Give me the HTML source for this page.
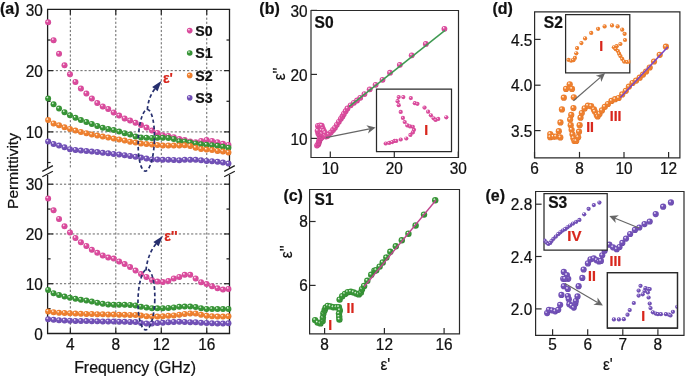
<!DOCTYPE html>
<html><head><meta charset="utf-8"><style>
html,body{margin:0;padding:0;background:#fff;}
svg{display:block;font-family:"Liberation Sans", sans-serif;will-change:transform;}
</style></head><body>
<svg width="685" height="377" viewBox="0 0 685 377">
<defs><radialGradient id="gP" cx="0.45" cy="0.45" r="0.6" fx="0.34" fy="0.3"><stop offset="0" stop-color="#ffffff"/><stop offset="0.13" stop-color="#f5c0de"/><stop offset="0.36" stop-color="#da4a9c"/><stop offset="0.8" stop-color="#da4a9c"/><stop offset="1" stop-color="#bb3683"/></radialGradient><radialGradient id="gG" cx="0.45" cy="0.45" r="0.6" fx="0.34" fy="0.3"><stop offset="0" stop-color="#ffffff"/><stop offset="0.13" stop-color="#b8e0b8"/><stop offset="0.36" stop-color="#379436"/><stop offset="0.8" stop-color="#379436"/><stop offset="1" stop-color="#27782a"/></radialGradient><radialGradient id="gO" cx="0.45" cy="0.45" r="0.6" fx="0.34" fy="0.3"><stop offset="0" stop-color="#ffffff"/><stop offset="0.13" stop-color="#fcd8b8"/><stop offset="0.36" stop-color="#ee7f2e"/><stop offset="0.8" stop-color="#ee7f2e"/><stop offset="1" stop-color="#d0661c"/></radialGradient><radialGradient id="gV" cx="0.45" cy="0.45" r="0.6" fx="0.34" fy="0.3"><stop offset="0" stop-color="#ffffff"/><stop offset="0.13" stop-color="#d2c4ee"/><stop offset="0.36" stop-color="#7150b6"/><stop offset="0.8" stop-color="#7150b6"/><stop offset="1" stop-color="#57389a"/></radialGradient><clipPath id="c0"><rect x="375.90" y="88.40" width="76.20" height="63.90"/></clipPath><clipPath id="c1"><rect x="565.00" y="14.00" width="65.40" height="59.50"/></clipPath><clipPath id="c2"><rect x="543.40" y="192.90" width="64.40" height="57.70"/></clipPath><clipPath id="c3"><rect x="607.40" y="272.60" width="70.10" height="55.60"/></clipPath></defs>
<rect width="685" height="377" fill="#fff"/>
<line x1="70.34" y1="9.4" x2="70.34" y2="167.8" stroke="#666" stroke-width="1.0" stroke-dasharray="2.2 1.9"/>
<line x1="70.34" y1="175.0" x2="70.34" y2="333.5" stroke="#666" stroke-width="1.0" stroke-dasharray="2.2 1.9"/>
<line x1="115.81" y1="9.4" x2="115.81" y2="167.8" stroke="#666" stroke-width="1.0" stroke-dasharray="2.2 1.9"/>
<line x1="115.81" y1="175.0" x2="115.81" y2="333.5" stroke="#666" stroke-width="1.0" stroke-dasharray="2.2 1.9"/>
<line x1="161.29" y1="9.4" x2="161.29" y2="167.8" stroke="#666" stroke-width="1.0" stroke-dasharray="2.2 1.9"/>
<line x1="161.29" y1="175.0" x2="161.29" y2="333.5" stroke="#666" stroke-width="1.0" stroke-dasharray="2.2 1.9"/>
<line x1="206.76" y1="9.4" x2="206.76" y2="167.8" stroke="#666" stroke-width="1.0" stroke-dasharray="2.2 1.9"/>
<line x1="206.76" y1="175.0" x2="206.76" y2="333.5" stroke="#666" stroke-width="1.0" stroke-dasharray="2.2 1.9"/>
<line x1="47.6" y1="131.90" x2="229.5" y2="131.90" stroke="#666" stroke-width="1.0" stroke-dasharray="2.2 1.9"/>
<line x1="47.6" y1="70.65" x2="229.5" y2="70.65" stroke="#666" stroke-width="1.0" stroke-dasharray="2.2 1.9"/>
<line x1="47.6" y1="283.73" x2="229.5" y2="283.73" stroke="#666" stroke-width="1.0" stroke-dasharray="2.2 1.9"/>
<line x1="47.6" y1="233.96" x2="229.5" y2="233.96" stroke="#666" stroke-width="1.0" stroke-dasharray="2.2 1.9"/>
<line x1="47.6" y1="184.19" x2="229.5" y2="184.19" stroke="#666" stroke-width="1.0" stroke-dasharray="2.2 1.9"/>
<line x1="46.95" y1="9.40" x2="230.15" y2="9.40" stroke="#1e1e1e" stroke-width="1.3" />
<line x1="47.60" y1="9.40" x2="47.60" y2="167.80" stroke="#1e1e1e" stroke-width="1.3" />
<line x1="229.50" y1="9.40" x2="229.50" y2="167.80" stroke="#1e1e1e" stroke-width="1.3" />
<line x1="47.60" y1="175.00" x2="47.60" y2="333.50" stroke="#1e1e1e" stroke-width="1.3" />
<line x1="229.50" y1="175.00" x2="229.50" y2="333.50" stroke="#1e1e1e" stroke-width="1.3" />
<line x1="46.95" y1="333.50" x2="230.15" y2="333.50" stroke="#1e1e1e" stroke-width="1.3" />
<line x1="42.30" y1="171.40" x2="52.90" y2="165.60" stroke="#1e1e1e" stroke-width="1.2" />
<line x1="42.30" y1="176.80" x2="52.90" y2="171.20" stroke="#1e1e1e" stroke-width="1.2" />
<line x1="224.20" y1="171.40" x2="234.80" y2="165.60" stroke="#1e1e1e" stroke-width="1.2" />
<line x1="224.20" y1="176.80" x2="234.80" y2="171.20" stroke="#1e1e1e" stroke-width="1.2" />
<line x1="47.60" y1="40.02" x2="50.60" y2="40.02" stroke="#1e1e1e" stroke-width="1.2" />
<line x1="229.50" y1="40.02" x2="226.50" y2="40.02" stroke="#1e1e1e" stroke-width="1.2" />
<line x1="47.60" y1="70.65" x2="52.90" y2="70.65" stroke="#1e1e1e" stroke-width="1.2" />
<line x1="229.50" y1="70.65" x2="224.20" y2="70.65" stroke="#1e1e1e" stroke-width="1.2" />
<line x1="47.60" y1="101.28" x2="50.60" y2="101.28" stroke="#1e1e1e" stroke-width="1.2" />
<line x1="229.50" y1="101.28" x2="226.50" y2="101.28" stroke="#1e1e1e" stroke-width="1.2" />
<line x1="47.60" y1="131.90" x2="52.90" y2="131.90" stroke="#1e1e1e" stroke-width="1.2" />
<line x1="229.50" y1="131.90" x2="224.20" y2="131.90" stroke="#1e1e1e" stroke-width="1.2" />
<line x1="47.60" y1="162.53" x2="50.60" y2="162.53" stroke="#1e1e1e" stroke-width="1.2" />
<line x1="229.50" y1="162.53" x2="226.50" y2="162.53" stroke="#1e1e1e" stroke-width="1.2" />
<line x1="47.60" y1="184.19" x2="52.90" y2="184.19" stroke="#1e1e1e" stroke-width="1.2" />
<line x1="229.50" y1="184.19" x2="224.20" y2="184.19" stroke="#1e1e1e" stroke-width="1.2" />
<line x1="47.60" y1="209.07" x2="50.60" y2="209.07" stroke="#1e1e1e" stroke-width="1.2" />
<line x1="229.50" y1="209.07" x2="226.50" y2="209.07" stroke="#1e1e1e" stroke-width="1.2" />
<line x1="47.60" y1="233.96" x2="52.90" y2="233.96" stroke="#1e1e1e" stroke-width="1.2" />
<line x1="229.50" y1="233.96" x2="224.20" y2="233.96" stroke="#1e1e1e" stroke-width="1.2" />
<line x1="47.60" y1="258.85" x2="50.60" y2="258.85" stroke="#1e1e1e" stroke-width="1.2" />
<line x1="229.50" y1="258.85" x2="226.50" y2="258.85" stroke="#1e1e1e" stroke-width="1.2" />
<line x1="47.60" y1="283.73" x2="52.90" y2="283.73" stroke="#1e1e1e" stroke-width="1.2" />
<line x1="229.50" y1="283.73" x2="224.20" y2="283.73" stroke="#1e1e1e" stroke-width="1.2" />
<line x1="47.60" y1="308.62" x2="50.60" y2="308.62" stroke="#1e1e1e" stroke-width="1.2" />
<line x1="229.50" y1="308.62" x2="226.50" y2="308.62" stroke="#1e1e1e" stroke-width="1.2" />
<line x1="70.34" y1="333.50" x2="70.34" y2="328.20" stroke="#1e1e1e" stroke-width="1.2" />
<line x1="70.34" y1="9.40" x2="70.34" y2="14.70" stroke="#1e1e1e" stroke-width="1.2" />
<line x1="115.81" y1="333.50" x2="115.81" y2="328.20" stroke="#1e1e1e" stroke-width="1.2" />
<line x1="115.81" y1="9.40" x2="115.81" y2="14.70" stroke="#1e1e1e" stroke-width="1.2" />
<line x1="161.29" y1="333.50" x2="161.29" y2="328.20" stroke="#1e1e1e" stroke-width="1.2" />
<line x1="161.29" y1="9.40" x2="161.29" y2="14.70" stroke="#1e1e1e" stroke-width="1.2" />
<line x1="206.76" y1="333.50" x2="206.76" y2="328.20" stroke="#1e1e1e" stroke-width="1.2" />
<line x1="206.76" y1="9.40" x2="206.76" y2="14.70" stroke="#1e1e1e" stroke-width="1.2" />
<circle cx="48.10" cy="22.30" r="3.0" fill="url(#gP)"/>
<circle cx="53.56" cy="40.20" r="3.0" fill="url(#gP)"/>
<circle cx="59.03" cy="53.80" r="3.0" fill="url(#gP)"/>
<circle cx="64.49" cy="65.30" r="3.0" fill="url(#gP)"/>
<circle cx="69.96" cy="74.30" r="3.0" fill="url(#gP)"/>
<circle cx="75.42" cy="82.00" r="3.0" fill="url(#gP)"/>
<circle cx="80.88" cy="88.40" r="3.0" fill="url(#gP)"/>
<circle cx="86.35" cy="93.50" r="3.0" fill="url(#gP)"/>
<circle cx="91.81" cy="98.40" r="3.0" fill="url(#gP)"/>
<circle cx="97.28" cy="103.00" r="3.0" fill="url(#gP)"/>
<circle cx="102.74" cy="106.40" r="3.0" fill="url(#gP)"/>
<circle cx="108.20" cy="109.00" r="3.0" fill="url(#gP)"/>
<circle cx="113.67" cy="112.40" r="3.0" fill="url(#gP)"/>
<circle cx="119.13" cy="115.60" r="3.0" fill="url(#gP)"/>
<circle cx="124.60" cy="118.40" r="3.0" fill="url(#gP)"/>
<circle cx="130.06" cy="120.40" r="3.0" fill="url(#gP)"/>
<circle cx="135.52" cy="122.70" r="3.0" fill="url(#gP)"/>
<circle cx="140.99" cy="125.00" r="3.0" fill="url(#gP)"/>
<circle cx="146.45" cy="127.60" r="3.0" fill="url(#gP)"/>
<circle cx="151.92" cy="130.40" r="3.0" fill="url(#gP)"/>
<circle cx="157.38" cy="132.90" r="3.0" fill="url(#gP)"/>
<circle cx="162.84" cy="135.30" r="3.0" fill="url(#gP)"/>
<circle cx="168.31" cy="135.90" r="3.0" fill="url(#gP)"/>
<circle cx="173.77" cy="137.20" r="3.0" fill="url(#gP)"/>
<circle cx="179.24" cy="139.00" r="3.0" fill="url(#gP)"/>
<circle cx="184.70" cy="140.00" r="3.0" fill="url(#gP)"/>
<circle cx="190.16" cy="141.50" r="3.0" fill="url(#gP)"/>
<circle cx="195.63" cy="142.20" r="3.0" fill="url(#gP)"/>
<circle cx="201.09" cy="140.90" r="3.0" fill="url(#gP)"/>
<circle cx="206.56" cy="140.00" r="3.0" fill="url(#gP)"/>
<circle cx="212.02" cy="140.90" r="3.0" fill="url(#gP)"/>
<circle cx="217.48" cy="142.20" r="3.0" fill="url(#gP)"/>
<circle cx="222.95" cy="143.70" r="3.0" fill="url(#gP)"/>
<circle cx="228.41" cy="145.00" r="3.0" fill="url(#gP)"/>
<circle cx="48.10" cy="98.40" r="3.0" fill="url(#gG)"/>
<circle cx="53.56" cy="104.30" r="3.0" fill="url(#gG)"/>
<circle cx="59.03" cy="108.60" r="3.0" fill="url(#gG)"/>
<circle cx="64.49" cy="112.20" r="3.0" fill="url(#gG)"/>
<circle cx="69.96" cy="115.30" r="3.0" fill="url(#gG)"/>
<circle cx="75.42" cy="117.70" r="3.0" fill="url(#gG)"/>
<circle cx="80.88" cy="120.10" r="3.0" fill="url(#gG)"/>
<circle cx="86.35" cy="122.00" r="3.0" fill="url(#gG)"/>
<circle cx="91.81" cy="123.90" r="3.0" fill="url(#gG)"/>
<circle cx="97.28" cy="125.90" r="3.0" fill="url(#gG)"/>
<circle cx="102.74" cy="127.70" r="3.0" fill="url(#gG)"/>
<circle cx="108.20" cy="129.00" r="3.0" fill="url(#gG)"/>
<circle cx="113.67" cy="130.10" r="3.0" fill="url(#gG)"/>
<circle cx="119.13" cy="131.60" r="3.0" fill="url(#gG)"/>
<circle cx="124.60" cy="133.20" r="3.0" fill="url(#gG)"/>
<circle cx="130.06" cy="134.60" r="3.0" fill="url(#gG)"/>
<circle cx="135.52" cy="136.50" r="3.0" fill="url(#gG)"/>
<circle cx="140.99" cy="137.50" r="3.0" fill="url(#gG)"/>
<circle cx="146.45" cy="137.70" r="3.0" fill="url(#gG)"/>
<circle cx="151.92" cy="137.90" r="3.0" fill="url(#gG)"/>
<circle cx="157.38" cy="137.70" r="3.0" fill="url(#gG)"/>
<circle cx="162.84" cy="137.70" r="3.0" fill="url(#gG)"/>
<circle cx="168.31" cy="138.00" r="3.0" fill="url(#gG)"/>
<circle cx="173.77" cy="139.00" r="3.0" fill="url(#gG)"/>
<circle cx="179.24" cy="141.20" r="3.0" fill="url(#gG)"/>
<circle cx="184.70" cy="141.50" r="3.0" fill="url(#gG)"/>
<circle cx="190.16" cy="142.50" r="3.0" fill="url(#gG)"/>
<circle cx="195.63" cy="143.40" r="3.0" fill="url(#gG)"/>
<circle cx="201.09" cy="144.30" r="3.0" fill="url(#gG)"/>
<circle cx="206.56" cy="144.70" r="3.0" fill="url(#gG)"/>
<circle cx="212.02" cy="145.20" r="3.0" fill="url(#gG)"/>
<circle cx="217.48" cy="145.80" r="3.0" fill="url(#gG)"/>
<circle cx="222.95" cy="146.70" r="3.0" fill="url(#gG)"/>
<circle cx="228.41" cy="147.70" r="3.0" fill="url(#gG)"/>
<circle cx="48.10" cy="120.10" r="3.0" fill="url(#gO)"/>
<circle cx="53.56" cy="123.40" r="3.0" fill="url(#gO)"/>
<circle cx="59.03" cy="125.30" r="3.0" fill="url(#gO)"/>
<circle cx="64.49" cy="127.30" r="3.0" fill="url(#gO)"/>
<circle cx="69.96" cy="128.90" r="3.0" fill="url(#gO)"/>
<circle cx="75.42" cy="130.60" r="3.0" fill="url(#gO)"/>
<circle cx="80.88" cy="132.00" r="3.0" fill="url(#gO)"/>
<circle cx="86.35" cy="133.20" r="3.0" fill="url(#gO)"/>
<circle cx="91.81" cy="134.50" r="3.0" fill="url(#gO)"/>
<circle cx="97.28" cy="135.60" r="3.0" fill="url(#gO)"/>
<circle cx="102.74" cy="136.60" r="3.0" fill="url(#gO)"/>
<circle cx="108.20" cy="137.50" r="3.0" fill="url(#gO)"/>
<circle cx="113.67" cy="138.60" r="3.0" fill="url(#gO)"/>
<circle cx="119.13" cy="139.50" r="3.0" fill="url(#gO)"/>
<circle cx="124.60" cy="140.50" r="3.0" fill="url(#gO)"/>
<circle cx="130.06" cy="141.70" r="3.0" fill="url(#gO)"/>
<circle cx="135.52" cy="142.60" r="3.0" fill="url(#gO)"/>
<circle cx="140.99" cy="143.60" r="3.0" fill="url(#gO)"/>
<circle cx="146.45" cy="144.10" r="3.0" fill="url(#gO)"/>
<circle cx="151.92" cy="144.50" r="3.0" fill="url(#gO)"/>
<circle cx="157.38" cy="145.10" r="3.0" fill="url(#gO)"/>
<circle cx="162.84" cy="145.50" r="3.0" fill="url(#gO)"/>
<circle cx="168.31" cy="145.50" r="3.0" fill="url(#gO)"/>
<circle cx="173.77" cy="145.50" r="3.0" fill="url(#gO)"/>
<circle cx="179.24" cy="145.50" r="3.0" fill="url(#gO)"/>
<circle cx="184.70" cy="145.30" r="3.0" fill="url(#gO)"/>
<circle cx="190.16" cy="145.90" r="3.0" fill="url(#gO)"/>
<circle cx="195.63" cy="147.70" r="3.0" fill="url(#gO)"/>
<circle cx="201.09" cy="149.00" r="3.0" fill="url(#gO)"/>
<circle cx="206.56" cy="149.60" r="3.0" fill="url(#gO)"/>
<circle cx="212.02" cy="150.10" r="3.0" fill="url(#gO)"/>
<circle cx="217.48" cy="150.90" r="3.0" fill="url(#gO)"/>
<circle cx="222.95" cy="151.40" r="3.0" fill="url(#gO)"/>
<circle cx="228.41" cy="152.40" r="3.0" fill="url(#gO)"/>
<circle cx="48.10" cy="141.60" r="3.0" fill="url(#gV)"/>
<circle cx="53.56" cy="144.00" r="3.0" fill="url(#gV)"/>
<circle cx="59.03" cy="145.60" r="3.0" fill="url(#gV)"/>
<circle cx="64.49" cy="147.30" r="3.0" fill="url(#gV)"/>
<circle cx="69.96" cy="149.20" r="3.0" fill="url(#gV)"/>
<circle cx="75.42" cy="149.90" r="3.0" fill="url(#gV)"/>
<circle cx="80.88" cy="150.60" r="3.0" fill="url(#gV)"/>
<circle cx="86.35" cy="151.10" r="3.0" fill="url(#gV)"/>
<circle cx="91.81" cy="151.60" r="3.0" fill="url(#gV)"/>
<circle cx="97.28" cy="152.10" r="3.0" fill="url(#gV)"/>
<circle cx="102.74" cy="152.80" r="3.0" fill="url(#gV)"/>
<circle cx="108.20" cy="153.30" r="3.0" fill="url(#gV)"/>
<circle cx="113.67" cy="154.00" r="3.0" fill="url(#gV)"/>
<circle cx="119.13" cy="154.50" r="3.0" fill="url(#gV)"/>
<circle cx="124.60" cy="155.20" r="3.0" fill="url(#gV)"/>
<circle cx="130.06" cy="155.90" r="3.0" fill="url(#gV)"/>
<circle cx="135.52" cy="156.80" r="3.0" fill="url(#gV)"/>
<circle cx="140.99" cy="157.60" r="3.0" fill="url(#gV)"/>
<circle cx="146.45" cy="158.50" r="3.0" fill="url(#gV)"/>
<circle cx="151.92" cy="159.40" r="3.0" fill="url(#gV)"/>
<circle cx="157.38" cy="159.40" r="3.0" fill="url(#gV)"/>
<circle cx="162.84" cy="159.80" r="3.0" fill="url(#gV)"/>
<circle cx="168.31" cy="159.80" r="3.0" fill="url(#gV)"/>
<circle cx="173.77" cy="159.90" r="3.0" fill="url(#gV)"/>
<circle cx="179.24" cy="160.30" r="3.0" fill="url(#gV)"/>
<circle cx="184.70" cy="159.80" r="3.0" fill="url(#gV)"/>
<circle cx="190.16" cy="159.80" r="3.0" fill="url(#gV)"/>
<circle cx="195.63" cy="159.80" r="3.0" fill="url(#gV)"/>
<circle cx="201.09" cy="160.30" r="3.0" fill="url(#gV)"/>
<circle cx="206.56" cy="160.90" r="3.0" fill="url(#gV)"/>
<circle cx="212.02" cy="161.20" r="3.0" fill="url(#gV)"/>
<circle cx="217.48" cy="161.80" r="3.0" fill="url(#gV)"/>
<circle cx="222.95" cy="162.50" r="3.0" fill="url(#gV)"/>
<circle cx="228.41" cy="163.60" r="3.0" fill="url(#gV)"/>
<circle cx="48.10" cy="198.40" r="3.0" fill="url(#gP)"/>
<circle cx="53.56" cy="210.30" r="3.0" fill="url(#gP)"/>
<circle cx="59.03" cy="218.90" r="3.0" fill="url(#gP)"/>
<circle cx="64.49" cy="226.30" r="3.0" fill="url(#gP)"/>
<circle cx="69.96" cy="232.50" r="3.0" fill="url(#gP)"/>
<circle cx="75.42" cy="238.00" r="3.0" fill="url(#gP)"/>
<circle cx="80.88" cy="242.30" r="3.0" fill="url(#gP)"/>
<circle cx="86.35" cy="245.90" r="3.0" fill="url(#gP)"/>
<circle cx="91.81" cy="249.70" r="3.0" fill="url(#gP)"/>
<circle cx="97.28" cy="252.80" r="3.0" fill="url(#gP)"/>
<circle cx="102.74" cy="255.40" r="3.0" fill="url(#gP)"/>
<circle cx="108.20" cy="257.60" r="3.0" fill="url(#gP)"/>
<circle cx="113.67" cy="258.60" r="3.0" fill="url(#gP)"/>
<circle cx="119.13" cy="261.40" r="3.0" fill="url(#gP)"/>
<circle cx="124.60" cy="264.10" r="3.0" fill="url(#gP)"/>
<circle cx="130.06" cy="267.10" r="3.0" fill="url(#gP)"/>
<circle cx="135.52" cy="270.50" r="3.0" fill="url(#gP)"/>
<circle cx="140.99" cy="274.10" r="3.0" fill="url(#gP)"/>
<circle cx="146.45" cy="276.90" r="3.0" fill="url(#gP)"/>
<circle cx="151.92" cy="280.10" r="3.0" fill="url(#gP)"/>
<circle cx="157.38" cy="281.50" r="3.0" fill="url(#gP)"/>
<circle cx="162.84" cy="282.00" r="3.0" fill="url(#gP)"/>
<circle cx="168.31" cy="281.10" r="3.0" fill="url(#gP)"/>
<circle cx="173.77" cy="278.40" r="3.0" fill="url(#gP)"/>
<circle cx="179.24" cy="276.90" r="3.0" fill="url(#gP)"/>
<circle cx="184.70" cy="274.80" r="3.0" fill="url(#gP)"/>
<circle cx="190.16" cy="274.80" r="3.0" fill="url(#gP)"/>
<circle cx="195.63" cy="278.40" r="3.0" fill="url(#gP)"/>
<circle cx="201.09" cy="282.20" r="3.0" fill="url(#gP)"/>
<circle cx="206.56" cy="284.10" r="3.0" fill="url(#gP)"/>
<circle cx="212.02" cy="286.20" r="3.0" fill="url(#gP)"/>
<circle cx="217.48" cy="288.30" r="3.0" fill="url(#gP)"/>
<circle cx="222.95" cy="289.60" r="3.0" fill="url(#gP)"/>
<circle cx="228.41" cy="289.00" r="3.0" fill="url(#gP)"/>
<circle cx="48.10" cy="289.90" r="3.0" fill="url(#gG)"/>
<circle cx="53.56" cy="293.20" r="3.0" fill="url(#gG)"/>
<circle cx="59.03" cy="295.00" r="3.0" fill="url(#gG)"/>
<circle cx="64.49" cy="296.50" r="3.0" fill="url(#gG)"/>
<circle cx="69.96" cy="297.80" r="3.0" fill="url(#gG)"/>
<circle cx="75.42" cy="298.80" r="3.0" fill="url(#gG)"/>
<circle cx="80.88" cy="299.70" r="3.0" fill="url(#gG)"/>
<circle cx="86.35" cy="300.60" r="3.0" fill="url(#gG)"/>
<circle cx="91.81" cy="301.50" r="3.0" fill="url(#gG)"/>
<circle cx="97.28" cy="302.70" r="3.0" fill="url(#gG)"/>
<circle cx="102.74" cy="303.80" r="3.0" fill="url(#gG)"/>
<circle cx="108.20" cy="304.50" r="3.0" fill="url(#gG)"/>
<circle cx="113.67" cy="304.70" r="3.0" fill="url(#gG)"/>
<circle cx="119.13" cy="304.70" r="3.0" fill="url(#gG)"/>
<circle cx="124.60" cy="304.70" r="3.0" fill="url(#gG)"/>
<circle cx="130.06" cy="304.90" r="3.0" fill="url(#gG)"/>
<circle cx="135.52" cy="305.40" r="3.0" fill="url(#gG)"/>
<circle cx="140.99" cy="306.70" r="3.0" fill="url(#gG)"/>
<circle cx="146.45" cy="307.50" r="3.0" fill="url(#gG)"/>
<circle cx="151.92" cy="308.20" r="3.0" fill="url(#gG)"/>
<circle cx="157.38" cy="308.30" r="3.0" fill="url(#gG)"/>
<circle cx="162.84" cy="308.20" r="3.0" fill="url(#gG)"/>
<circle cx="168.31" cy="307.90" r="3.0" fill="url(#gG)"/>
<circle cx="173.77" cy="307.40" r="3.0" fill="url(#gG)"/>
<circle cx="179.24" cy="306.80" r="3.0" fill="url(#gG)"/>
<circle cx="184.70" cy="306.60" r="3.0" fill="url(#gG)"/>
<circle cx="190.16" cy="306.60" r="3.0" fill="url(#gG)"/>
<circle cx="195.63" cy="307.10" r="3.0" fill="url(#gG)"/>
<circle cx="201.09" cy="308.20" r="3.0" fill="url(#gG)"/>
<circle cx="206.56" cy="309.00" r="3.0" fill="url(#gG)"/>
<circle cx="212.02" cy="309.10" r="3.0" fill="url(#gG)"/>
<circle cx="217.48" cy="309.10" r="3.0" fill="url(#gG)"/>
<circle cx="222.95" cy="309.10" r="3.0" fill="url(#gG)"/>
<circle cx="228.41" cy="309.00" r="3.0" fill="url(#gG)"/>
<circle cx="48.10" cy="311.40" r="3.0" fill="url(#gO)"/>
<circle cx="53.56" cy="312.20" r="3.0" fill="url(#gO)"/>
<circle cx="59.03" cy="312.70" r="3.0" fill="url(#gO)"/>
<circle cx="64.49" cy="313.00" r="3.0" fill="url(#gO)"/>
<circle cx="69.96" cy="313.30" r="3.0" fill="url(#gO)"/>
<circle cx="75.42" cy="313.50" r="3.0" fill="url(#gO)"/>
<circle cx="80.88" cy="313.70" r="3.0" fill="url(#gO)"/>
<circle cx="86.35" cy="313.90" r="3.0" fill="url(#gO)"/>
<circle cx="91.81" cy="314.00" r="3.0" fill="url(#gO)"/>
<circle cx="97.28" cy="314.20" r="3.0" fill="url(#gO)"/>
<circle cx="102.74" cy="314.30" r="3.0" fill="url(#gO)"/>
<circle cx="108.20" cy="314.50" r="3.0" fill="url(#gO)"/>
<circle cx="113.67" cy="314.60" r="3.0" fill="url(#gO)"/>
<circle cx="119.13" cy="314.70" r="3.0" fill="url(#gO)"/>
<circle cx="124.60" cy="314.80" r="3.0" fill="url(#gO)"/>
<circle cx="130.06" cy="314.90" r="3.0" fill="url(#gO)"/>
<circle cx="135.52" cy="315.00" r="3.0" fill="url(#gO)"/>
<circle cx="140.99" cy="315.40" r="3.0" fill="url(#gO)"/>
<circle cx="146.45" cy="316.30" r="3.0" fill="url(#gO)"/>
<circle cx="151.92" cy="316.60" r="3.0" fill="url(#gO)"/>
<circle cx="157.38" cy="316.60" r="3.0" fill="url(#gO)"/>
<circle cx="162.84" cy="316.30" r="3.0" fill="url(#gO)"/>
<circle cx="168.31" cy="315.80" r="3.0" fill="url(#gO)"/>
<circle cx="173.77" cy="315.40" r="3.0" fill="url(#gO)"/>
<circle cx="179.24" cy="314.70" r="3.0" fill="url(#gO)"/>
<circle cx="184.70" cy="313.90" r="3.0" fill="url(#gO)"/>
<circle cx="190.16" cy="313.40" r="3.0" fill="url(#gO)"/>
<circle cx="195.63" cy="313.40" r="3.0" fill="url(#gO)"/>
<circle cx="201.09" cy="314.70" r="3.0" fill="url(#gO)"/>
<circle cx="206.56" cy="315.80" r="3.0" fill="url(#gO)"/>
<circle cx="212.02" cy="316.30" r="3.0" fill="url(#gO)"/>
<circle cx="217.48" cy="316.60" r="3.0" fill="url(#gO)"/>
<circle cx="222.95" cy="316.60" r="3.0" fill="url(#gO)"/>
<circle cx="228.41" cy="316.30" r="3.0" fill="url(#gO)"/>
<circle cx="48.10" cy="319.20" r="3.0" fill="url(#gV)"/>
<circle cx="53.56" cy="319.80" r="3.0" fill="url(#gV)"/>
<circle cx="59.03" cy="320.20" r="3.0" fill="url(#gV)"/>
<circle cx="64.49" cy="320.50" r="3.0" fill="url(#gV)"/>
<circle cx="69.96" cy="320.70" r="3.0" fill="url(#gV)"/>
<circle cx="75.42" cy="320.90" r="3.0" fill="url(#gV)"/>
<circle cx="80.88" cy="321.00" r="3.0" fill="url(#gV)"/>
<circle cx="86.35" cy="321.10" r="3.0" fill="url(#gV)"/>
<circle cx="91.81" cy="321.20" r="3.0" fill="url(#gV)"/>
<circle cx="97.28" cy="321.30" r="3.0" fill="url(#gV)"/>
<circle cx="102.74" cy="321.40" r="3.0" fill="url(#gV)"/>
<circle cx="108.20" cy="321.50" r="3.0" fill="url(#gV)"/>
<circle cx="113.67" cy="321.60" r="3.0" fill="url(#gV)"/>
<circle cx="119.13" cy="321.70" r="3.0" fill="url(#gV)"/>
<circle cx="124.60" cy="321.80" r="3.0" fill="url(#gV)"/>
<circle cx="130.06" cy="321.90" r="3.0" fill="url(#gV)"/>
<circle cx="135.52" cy="322.00" r="3.0" fill="url(#gV)"/>
<circle cx="140.99" cy="323.00" r="3.0" fill="url(#gV)"/>
<circle cx="146.45" cy="323.50" r="3.0" fill="url(#gV)"/>
<circle cx="151.92" cy="323.50" r="3.0" fill="url(#gV)"/>
<circle cx="157.38" cy="323.00" r="3.0" fill="url(#gV)"/>
<circle cx="162.84" cy="322.70" r="3.0" fill="url(#gV)"/>
<circle cx="168.31" cy="322.20" r="3.0" fill="url(#gV)"/>
<circle cx="173.77" cy="321.90" r="3.0" fill="url(#gV)"/>
<circle cx="179.24" cy="321.70" r="3.0" fill="url(#gV)"/>
<circle cx="184.70" cy="321.90" r="3.0" fill="url(#gV)"/>
<circle cx="190.16" cy="322.20" r="3.0" fill="url(#gV)"/>
<circle cx="195.63" cy="322.20" r="3.0" fill="url(#gV)"/>
<circle cx="201.09" cy="322.70" r="3.0" fill="url(#gV)"/>
<circle cx="206.56" cy="323.00" r="3.0" fill="url(#gV)"/>
<circle cx="212.02" cy="323.30" r="3.0" fill="url(#gV)"/>
<circle cx="217.48" cy="323.50" r="3.0" fill="url(#gV)"/>
<circle cx="222.95" cy="323.50" r="3.0" fill="url(#gV)"/>
<circle cx="228.41" cy="323.30" r="3.0" fill="url(#gV)"/>
<ellipse cx="146.3" cy="140.3" rx="8.1" ry="30.8" transform="rotate(2 146.3 140.3)" stroke="#262f6e" stroke-width="1.7" stroke-dasharray="3.6 2.6" fill="none"/>
<path d="M147.3 109.8 Q148.5 96 156 87.5" stroke="#262f6e" stroke-width="1.7" stroke-dasharray="3.6 2.6" fill="none"/>
<polygon points="161.6,80.8 152.2,87.0 157.6,91.2" fill="#262f6e"/>
<ellipse cx="146.4" cy="299.6" rx="8.4" ry="30.3" transform="rotate(1.5 146.4 299.6)" stroke="#262f6e" stroke-width="1.7" stroke-dasharray="3.6 2.6" fill="none"/>
<path d="M146 270.3 Q147.5 254 157 242.5" stroke="#262f6e" stroke-width="1.7" stroke-dasharray="3.6 2.6" fill="none"/>
<polygon points="163.0,235.7 153.4,242.0 158.6,246.2" fill="#262f6e"/>
<circle cx="189.70" cy="30.60" r="2.8" fill="url(#gP)"/>
<text transform="translate(195.20 35.90) scale(1 1.07)" font-size="14.2" text-anchor="start" font-weight="bold" fill="#111" stroke="#111" stroke-width="0.22">S0</text>
<circle cx="189.70" cy="53.00" r="2.8" fill="url(#gG)"/>
<text transform="translate(195.20 58.30) scale(1 1.07)" font-size="14.2" text-anchor="start" font-weight="bold" fill="#111" stroke="#111" stroke-width="0.22">S1</text>
<circle cx="189.70" cy="75.40" r="2.8" fill="url(#gO)"/>
<text transform="translate(195.20 80.70) scale(1 1.07)" font-size="14.2" text-anchor="start" font-weight="bold" fill="#111" stroke="#111" stroke-width="0.22">S2</text>
<circle cx="189.70" cy="97.80" r="2.8" fill="url(#gV)"/>
<text transform="translate(195.20 103.10) scale(1 1.07)" font-size="14.2" text-anchor="start" font-weight="bold" fill="#111" stroke="#111" stroke-width="0.22">S3</text>
<text transform="translate(162.90 82.90) scale(1 1.05)" font-size="14" text-anchor="start" font-weight="bold" fill="#d8261c" stroke="#d8261c" stroke-width="0.22">ε'</text>
<text transform="translate(164.30 241.30) scale(1 1.05)" font-size="14" text-anchor="start" font-weight="bold" fill="#d8261c" stroke="#d8261c" stroke-width="0.22">ε''</text>
<text transform="translate(42.80 15.60) scale(1 1.08)" font-size="15.4" text-anchor="end" font-weight="normal" fill="#111" stroke="#111" stroke-width="0.22">30</text>
<text transform="translate(42.80 76.85) scale(1 1.08)" font-size="15.4" text-anchor="end" font-weight="normal" fill="#111" stroke="#111" stroke-width="0.22">20</text>
<text transform="translate(42.80 138.10) scale(1 1.08)" font-size="15.4" text-anchor="end" font-weight="normal" fill="#111" stroke="#111" stroke-width="0.22">10</text>
<text transform="translate(42.80 190.39) scale(1 1.08)" font-size="15.4" text-anchor="end" font-weight="normal" fill="#111" stroke="#111" stroke-width="0.22">30</text>
<text transform="translate(42.80 240.16) scale(1 1.08)" font-size="15.4" text-anchor="end" font-weight="normal" fill="#111" stroke="#111" stroke-width="0.22">20</text>
<text transform="translate(42.80 289.93) scale(1 1.08)" font-size="15.4" text-anchor="end" font-weight="normal" fill="#111" stroke="#111" stroke-width="0.22">10</text>
<text transform="translate(42.80 339.70) scale(1 1.08)" font-size="15.4" text-anchor="end" font-weight="normal" fill="#111" stroke="#111" stroke-width="0.22">0</text>
<text transform="translate(70.34 350.30) scale(1 1.08)" font-size="15.4" text-anchor="middle" font-weight="normal" fill="#111" stroke="#111" stroke-width="0.22">4</text>
<text transform="translate(115.81 350.30) scale(1 1.08)" font-size="15.4" text-anchor="middle" font-weight="normal" fill="#111" stroke="#111" stroke-width="0.22">8</text>
<text transform="translate(161.29 350.30) scale(1 1.08)" font-size="15.4" text-anchor="middle" font-weight="normal" fill="#111" stroke="#111" stroke-width="0.22">12</text>
<text transform="translate(206.76 350.30) scale(1 1.08)" font-size="15.4" text-anchor="middle" font-weight="normal" fill="#111" stroke="#111" stroke-width="0.22">16</text>
<text x="135.10" y="372.80" font-size="15.9" text-anchor="middle" font-weight="normal" fill="#111" stroke="#111" stroke-width="0.22" >Frequency (GHz)</text>
<text x="0.00" y="0.00" font-size="15.5" text-anchor="middle" font-weight="normal" fill="#111" stroke="#111" stroke-width="0.22" transform="translate(17.5 171) rotate(-90)">Permittivity</text>
<text x="0.00" y="14.00" font-size="16" text-anchor="start" font-weight="bold" fill="#111" stroke="#111" stroke-width="0.22" >(a)</text>
<text x="259.30" y="14.00" font-size="16" text-anchor="start" font-weight="bold" fill="#111" stroke="#111" stroke-width="0.22" >(b)</text>
<path d="M310.40 10.50H459.10M458.50 10.50V157.50M459.10 157.50H310.40M311.00 157.50V10.50" fill="none" stroke="#2a2a2a" stroke-width="1.2"/>
<line x1="311.00" y1="10.40" x2="317.00" y2="10.40" stroke="#2a2a2a" stroke-width="1.2" />
<text transform="translate(307.60 16.60) scale(1 1.08)" font-size="15.4" text-anchor="end" font-weight="normal" fill="#111" stroke="#111" stroke-width="0.22">30</text>
<line x1="311.00" y1="74.40" x2="317.00" y2="74.40" stroke="#2a2a2a" stroke-width="1.2" />
<text transform="translate(307.60 80.60) scale(1 1.08)" font-size="15.4" text-anchor="end" font-weight="normal" fill="#111" stroke="#111" stroke-width="0.22">20</text>
<line x1="311.00" y1="138.40" x2="317.00" y2="138.40" stroke="#2a2a2a" stroke-width="1.2" />
<text transform="translate(307.60 144.60) scale(1 1.08)" font-size="15.4" text-anchor="end" font-weight="normal" fill="#111" stroke="#111" stroke-width="0.22">10</text>
<line x1="330.30" y1="157.50" x2="330.30" y2="151.50" stroke="#2a2a2a" stroke-width="1.2" />
<text transform="translate(330.30 174.10) scale(1 1.08)" font-size="15.4" text-anchor="middle" font-weight="normal" fill="#111" stroke="#111" stroke-width="0.22">10</text>
<line x1="394.30" y1="157.50" x2="394.30" y2="151.50" stroke="#2a2a2a" stroke-width="1.2" />
<text transform="translate(394.30 174.10) scale(1 1.08)" font-size="15.4" text-anchor="middle" font-weight="normal" fill="#111" stroke="#111" stroke-width="0.22">20</text>
<line x1="458.30" y1="157.50" x2="458.30" y2="151.50" stroke="#2a2a2a" stroke-width="1.2" />
<text transform="translate(458.30 174.10) scale(1 1.08)" font-size="15.4" text-anchor="middle" font-weight="normal" fill="#111" stroke="#111" stroke-width="0.22">30</text>
<text x="0.00" y="0.00" font-size="15.4" text-anchor="middle" font-weight="normal" fill="#111" stroke="#111" stroke-width="0.22" transform="translate(284.90 73.90) rotate(-90) scale(1 1.13)">ε''</text>
<text transform="translate(314.50 27.80) scale(1 1.03)" font-size="15.6" text-anchor="start" font-weight="bold" fill="#111" stroke="#111" stroke-width="0.22">S0</text>
<circle cx="317.00" cy="145.60" r="2.9" fill="url(#gP)"/>
<circle cx="318.30" cy="144.20" r="2.9" fill="url(#gP)"/>
<circle cx="318.60" cy="142.80" r="2.9" fill="url(#gP)"/>
<circle cx="319.20" cy="141.20" r="2.9" fill="url(#gP)"/>
<circle cx="319.40" cy="140.10" r="2.9" fill="url(#gP)"/>
<circle cx="320.60" cy="138.30" r="2.9" fill="url(#gP)"/>
<circle cx="321.30" cy="137.80" r="2.9" fill="url(#gP)"/>
<circle cx="319.40" cy="135.60" r="2.9" fill="url(#gP)"/>
<circle cx="318.30" cy="133.50" r="2.9" fill="url(#gP)"/>
<circle cx="317.60" cy="130.80" r="2.9" fill="url(#gP)"/>
<circle cx="317.90" cy="125.90" r="2.9" fill="url(#gP)"/>
<circle cx="320.00" cy="125.30" r="2.9" fill="url(#gP)"/>
<circle cx="321.70" cy="125.60" r="2.9" fill="url(#gP)"/>
<circle cx="322.70" cy="128.50" r="2.9" fill="url(#gP)"/>
<circle cx="321.70" cy="130.40" r="2.9" fill="url(#gP)"/>
<circle cx="322.00" cy="133.70" r="2.9" fill="url(#gP)"/>
<circle cx="323.80" cy="131.00" r="2.9" fill="url(#gP)"/>
<circle cx="325.00" cy="133.00" r="2.9" fill="url(#gP)"/>
<circle cx="325.00" cy="135.60" r="2.9" fill="url(#gP)"/>
<circle cx="326.00" cy="136.60" r="2.9" fill="url(#gP)"/>
<circle cx="327.30" cy="135.90" r="2.9" fill="url(#gP)"/>
<circle cx="328.80" cy="134.40" r="2.9" fill="url(#gP)"/>
<circle cx="330.90" cy="132.30" r="2.9" fill="url(#gP)"/>
<circle cx="333.00" cy="130.00" r="2.9" fill="url(#gP)"/>
<circle cx="334.90" cy="127.80" r="2.9" fill="url(#gP)"/>
<circle cx="336.80" cy="124.80" r="2.9" fill="url(#gP)"/>
<circle cx="338.80" cy="121.80" r="2.9" fill="url(#gP)"/>
<circle cx="340.80" cy="118.80" r="2.9" fill="url(#gP)"/>
<circle cx="342.40" cy="116.40" r="2.9" fill="url(#gP)"/>
<circle cx="343.80" cy="113.90" r="2.9" fill="url(#gP)"/>
<circle cx="345.60" cy="111.20" r="2.9" fill="url(#gP)"/>
<circle cx="347.40" cy="108.40" r="2.9" fill="url(#gP)"/>
<circle cx="350.60" cy="105.30" r="2.9" fill="url(#gP)"/>
<circle cx="353.80" cy="102.80" r="2.9" fill="url(#gP)"/>
<circle cx="357.00" cy="100.50" r="2.9" fill="url(#gP)"/>
<circle cx="360.20" cy="97.80" r="2.9" fill="url(#gP)"/>
<circle cx="364.40" cy="94.10" r="2.9" fill="url(#gP)"/>
<circle cx="369.70" cy="89.30" r="2.9" fill="url(#gP)"/>
<circle cx="375.60" cy="84.80" r="2.9" fill="url(#gP)"/>
<circle cx="382.50" cy="79.80" r="2.9" fill="url(#gP)"/>
<circle cx="390.00" cy="72.70" r="2.9" fill="url(#gP)"/>
<circle cx="399.80" cy="64.80" r="2.9" fill="url(#gP)"/>
<circle cx="411.70" cy="55.30" r="2.9" fill="url(#gP)"/>
<circle cx="425.80" cy="43.90" r="2.9" fill="url(#gP)"/>
<circle cx="444.40" cy="28.80" r="2.9" fill="url(#gP)"/>
<line x1="349.00" y1="106.60" x2="445.00" y2="30.40" stroke="#3f9a52" stroke-width="1.5" />
<line x1="325.90" y1="137.70" x2="369.53" y2="128.83" stroke="#666" stroke-width="1.2" />
<polygon points="375.60,127.60 368.01,133.43 369.53,128.83 366.34,125.20" fill="#666"/>
<rect x="376.50" y="89.00" width="75.00" height="62.70" fill="#fff"/>
<path d="M375.88 89.00H452.12M451.50 89.00V151.70M452.12 151.70H375.88M376.50 151.70V89.00" fill="none" stroke="#2a2a2a" stroke-width="1.25"/>
<g clip-path="url(#c0)">
<circle cx="385.70" cy="143.50" r="2.1" fill="url(#gP)"/>
<circle cx="389.20" cy="142.90" r="2.1" fill="url(#gP)"/>
<circle cx="392.20" cy="142.10" r="2.1" fill="url(#gP)"/>
<circle cx="394.60" cy="140.90" r="2.1" fill="url(#gP)"/>
<circle cx="396.20" cy="140.90" r="2.1" fill="url(#gP)"/>
<circle cx="400.70" cy="139.50" r="2.1" fill="url(#gP)"/>
<circle cx="406.30" cy="138.50" r="2.1" fill="url(#gP)"/>
<circle cx="410.40" cy="134.90" r="2.1" fill="url(#gP)"/>
<circle cx="412.80" cy="132.40" r="2.1" fill="url(#gP)"/>
<circle cx="414.00" cy="129.80" r="2.1" fill="url(#gP)"/>
<circle cx="412.80" cy="126.80" r="2.1" fill="url(#gP)"/>
<circle cx="410.00" cy="126.40" r="2.1" fill="url(#gP)"/>
<circle cx="407.30" cy="125.40" r="2.1" fill="url(#gP)"/>
<circle cx="404.70" cy="122.00" r="2.1" fill="url(#gP)"/>
<circle cx="402.90" cy="117.90" r="2.1" fill="url(#gP)"/>
<circle cx="400.70" cy="111.90" r="2.1" fill="url(#gP)"/>
<circle cx="398.70" cy="105.20" r="2.1" fill="url(#gP)"/>
<circle cx="397.60" cy="101.20" r="2.1" fill="url(#gP)"/>
<circle cx="398.70" cy="97.10" r="2.1" fill="url(#gP)"/>
<circle cx="403.30" cy="97.10" r="2.1" fill="url(#gP)"/>
<circle cx="410.80" cy="98.10" r="2.1" fill="url(#gP)"/>
<circle cx="414.80" cy="103.20" r="2.1" fill="url(#gP)"/>
<circle cx="417.40" cy="103.80" r="2.1" fill="url(#gP)"/>
<circle cx="424.50" cy="107.60" r="2.1" fill="url(#gP)"/>
<circle cx="428.10" cy="111.70" r="2.1" fill="url(#gP)"/>
<circle cx="430.90" cy="115.30" r="2.1" fill="url(#gP)"/>
<circle cx="433.60" cy="118.30" r="2.1" fill="url(#gP)"/>
<circle cx="435.60" cy="119.90" r="2.1" fill="url(#gP)"/>
<circle cx="438.20" cy="118.90" r="2.1" fill="url(#gP)"/>
<circle cx="446.30" cy="117.30" r="2.1" fill="url(#gP)"/>
</g>
<text x="424.20" y="134.90" font-size="14" text-anchor="start" font-weight="bold" fill="#d8261c" stroke="#d8261c" stroke-width="0.22" >I</text>
<text x="283.40" y="200.80" font-size="16" text-anchor="start" font-weight="bold" fill="#111" stroke="#111" stroke-width="0.22" >(c)</text>
<path d="M309.00 189.50H460.10M459.50 189.50V333.90M460.10 333.90H309.00M309.60 333.90V189.50" fill="none" stroke="#2a2a2a" stroke-width="1.2"/>
<line x1="309.60" y1="221.50" x2="315.60" y2="221.50" stroke="#2a2a2a" stroke-width="1.2" />
<text transform="translate(307.80 227.00) scale(1 1.08)" font-size="15.4" text-anchor="end" font-weight="normal" fill="#111" stroke="#111" stroke-width="0.22">8</text>
<line x1="309.60" y1="285.40" x2="315.60" y2="285.40" stroke="#2a2a2a" stroke-width="1.2" />
<text transform="translate(307.80 290.90) scale(1 1.08)" font-size="15.4" text-anchor="end" font-weight="normal" fill="#111" stroke="#111" stroke-width="0.22">6</text>
<line x1="324.60" y1="333.90" x2="324.60" y2="327.90" stroke="#2a2a2a" stroke-width="1.2" />
<text transform="translate(324.60 350.30) scale(1 1.08)" font-size="15.4" text-anchor="middle" font-weight="normal" fill="#111" stroke="#111" stroke-width="0.22">8</text>
<line x1="384.40" y1="333.90" x2="384.40" y2="327.90" stroke="#2a2a2a" stroke-width="1.2" />
<text transform="translate(384.40 350.30) scale(1 1.08)" font-size="15.4" text-anchor="middle" font-weight="normal" fill="#111" stroke="#111" stroke-width="0.22">12</text>
<line x1="444.10" y1="333.90" x2="444.10" y2="327.90" stroke="#2a2a2a" stroke-width="1.2" />
<text transform="translate(444.10 350.30) scale(1 1.08)" font-size="15.4" text-anchor="middle" font-weight="normal" fill="#111" stroke="#111" stroke-width="0.22">16</text>
<text x="0.00" y="0.00" font-size="15.4" text-anchor="middle" font-weight="normal" fill="#111" stroke="#111" stroke-width="0.22" transform="translate(292.40 251.80) rotate(-90) scale(1 1.13)">ε''</text>
<text transform="translate(385.40 370.30) scale(1 1.12)" font-size="15.4" text-anchor="middle" font-weight="normal" fill="#111" stroke="#111" stroke-width="0.22">ε'</text>
<text transform="translate(314.50 205.40) scale(1 1.03)" font-size="15.6" text-anchor="start" font-weight="bold" fill="#111" stroke="#111" stroke-width="0.22">S1</text>
<circle cx="315.10" cy="320.10" r="3.2" fill="url(#gG)"/>
<circle cx="317.60" cy="322.60" r="3.2" fill="url(#gG)"/>
<circle cx="320.40" cy="323.40" r="3.2" fill="url(#gG)"/>
<circle cx="322.60" cy="321.00" r="3.2" fill="url(#gG)"/>
<circle cx="322.90" cy="317.60" r="3.2" fill="url(#gG)"/>
<circle cx="323.40" cy="313.50" r="3.2" fill="url(#gG)"/>
<circle cx="324.60" cy="310.20" r="3.2" fill="url(#gG)"/>
<circle cx="325.60" cy="307.80" r="3.2" fill="url(#gG)"/>
<circle cx="327.70" cy="305.90" r="3.2" fill="url(#gG)"/>
<circle cx="330.40" cy="306.40" r="3.2" fill="url(#gG)"/>
<circle cx="333.30" cy="307.30" r="3.2" fill="url(#gG)"/>
<circle cx="336.30" cy="307.30" r="3.2" fill="url(#gG)"/>
<circle cx="338.90" cy="307.20" r="3.2" fill="url(#gG)"/>
<circle cx="339.80" cy="310.40" r="3.2" fill="url(#gG)"/>
<circle cx="339.00" cy="313.60" r="3.2" fill="url(#gG)"/>
<circle cx="339.20" cy="316.80" r="3.2" fill="url(#gG)"/>
<circle cx="339.40" cy="319.60" r="3.2" fill="url(#gG)"/>
<circle cx="339.60" cy="299.60" r="3.2" fill="url(#gG)"/>
<circle cx="342.20" cy="296.20" r="3.2" fill="url(#gG)"/>
<circle cx="345.00" cy="293.90" r="3.2" fill="url(#gG)"/>
<circle cx="347.80" cy="292.20" r="3.2" fill="url(#gG)"/>
<circle cx="350.80" cy="291.70" r="3.2" fill="url(#gG)"/>
<circle cx="353.60" cy="292.40" r="3.2" fill="url(#gG)"/>
<circle cx="356.20" cy="293.60" r="3.2" fill="url(#gG)"/>
<circle cx="358.80" cy="294.40" r="3.2" fill="url(#gG)"/>
<circle cx="360.90" cy="292.60" r="3.2" fill="url(#gG)"/>
<circle cx="362.00" cy="289.20" r="3.2" fill="url(#gG)"/>
<circle cx="364.10" cy="285.90" r="3.2" fill="url(#gG)"/>
<circle cx="367.30" cy="280.80" r="3.2" fill="url(#gG)"/>
<circle cx="371.20" cy="274.80" r="3.2" fill="url(#gG)"/>
<circle cx="374.40" cy="270.80" r="3.2" fill="url(#gG)"/>
<circle cx="376.20" cy="270.20" r="3.2" fill="url(#gG)"/>
<circle cx="379.60" cy="266.60" r="3.2" fill="url(#gG)"/>
<circle cx="382.70" cy="262.50" r="3.2" fill="url(#gG)"/>
<circle cx="386.30" cy="257.50" r="3.2" fill="url(#gG)"/>
<circle cx="390.30" cy="251.80" r="3.2" fill="url(#gG)"/>
<circle cx="395.80" cy="246.30" r="3.2" fill="url(#gG)"/>
<circle cx="401.80" cy="240.30" r="3.2" fill="url(#gG)"/>
<circle cx="408.40" cy="233.70" r="3.2" fill="url(#gG)"/>
<circle cx="415.60" cy="225.50" r="3.2" fill="url(#gG)"/>
<circle cx="424.00" cy="214.60" r="3.2" fill="url(#gG)"/>
<circle cx="435.20" cy="200.30" r="3.2" fill="url(#gG)"/>
<line x1="364.10" y1="286.70" x2="435.90" y2="200.30" stroke="#c0468e" stroke-width="1.4" />
<text x="328.20" y="330.40" font-size="14" text-anchor="start" font-weight="bold" fill="#d8261c" stroke="#d8261c" stroke-width="0.22" >I</text>
<text x="346.60" y="312.60" font-size="14" text-anchor="start" font-weight="bold" fill="#d8261c" stroke="#d8261c" stroke-width="0.22" >II</text>
<text x="492.40" y="14.00" font-size="16" text-anchor="start" font-weight="bold" fill="#111" stroke="#111" stroke-width="0.22" >(d)</text>
<path d="M534.00 11.80H680.50M679.90 11.80V157.90M680.50 157.90H534.00M534.60 157.90V11.80" fill="none" stroke="#2a2a2a" stroke-width="1.2"/>
<line x1="534.60" y1="39.40" x2="540.60" y2="39.40" stroke="#2a2a2a" stroke-width="1.2" />
<text transform="translate(532.40 45.60) scale(1 1.08)" font-size="15.4" text-anchor="end" font-weight="normal" fill="#111" stroke="#111" stroke-width="0.22">4.5</text>
<line x1="534.60" y1="85.20" x2="540.60" y2="85.20" stroke="#2a2a2a" stroke-width="1.2" />
<text transform="translate(532.40 91.40) scale(1 1.08)" font-size="15.4" text-anchor="end" font-weight="normal" fill="#111" stroke="#111" stroke-width="0.22">4.0</text>
<line x1="534.60" y1="130.60" x2="540.60" y2="130.60" stroke="#2a2a2a" stroke-width="1.2" />
<text transform="translate(532.40 136.80) scale(1 1.08)" font-size="15.4" text-anchor="end" font-weight="normal" fill="#111" stroke="#111" stroke-width="0.22">3.5</text>
<line x1="534.50" y1="157.90" x2="534.50" y2="151.90" stroke="#2a2a2a" stroke-width="1.2" />
<text transform="translate(534.50 174.40) scale(1 1.08)" font-size="15.4" text-anchor="middle" font-weight="normal" fill="#111" stroke="#111" stroke-width="0.22">6</text>
<line x1="579.50" y1="157.90" x2="579.50" y2="151.90" stroke="#2a2a2a" stroke-width="1.2" />
<text transform="translate(579.50 174.40) scale(1 1.08)" font-size="15.4" text-anchor="middle" font-weight="normal" fill="#111" stroke="#111" stroke-width="0.22">8</text>
<line x1="624.00" y1="157.90" x2="624.00" y2="151.90" stroke="#2a2a2a" stroke-width="1.2" />
<text transform="translate(624.00 174.40) scale(1 1.08)" font-size="15.4" text-anchor="middle" font-weight="normal" fill="#111" stroke="#111" stroke-width="0.22">10</text>
<line x1="668.60" y1="157.90" x2="668.60" y2="151.90" stroke="#2a2a2a" stroke-width="1.2" />
<text transform="translate(668.60 174.40) scale(1 1.08)" font-size="15.4" text-anchor="middle" font-weight="normal" fill="#111" stroke="#111" stroke-width="0.22">12</text>
<text transform="translate(543.80 27.80) scale(1 1.03)" font-size="15.6" text-anchor="start" font-weight="bold" fill="#111" stroke="#111" stroke-width="0.22">S2</text>
<circle cx="550.20" cy="134.10" r="3.1" fill="url(#gO)"/>
<circle cx="550.20" cy="137.20" r="3.1" fill="url(#gO)"/>
<circle cx="553.40" cy="136.70" r="3.1" fill="url(#gO)"/>
<circle cx="556.00" cy="136.50" r="3.1" fill="url(#gO)"/>
<circle cx="560.30" cy="137.40" r="3.1" fill="url(#gO)"/>
<circle cx="558.80" cy="131.20" r="3.1" fill="url(#gO)"/>
<circle cx="560.40" cy="122.40" r="3.1" fill="url(#gO)"/>
<circle cx="561.90" cy="109.40" r="3.1" fill="url(#gO)"/>
<circle cx="563.80" cy="97.70" r="3.1" fill="url(#gO)"/>
<circle cx="566.00" cy="88.90" r="3.1" fill="url(#gO)"/>
<circle cx="569.70" cy="84.30" r="3.1" fill="url(#gO)"/>
<circle cx="572.00" cy="88.90" r="3.1" fill="url(#gO)"/>
<circle cx="573.80" cy="97.30" r="3.1" fill="url(#gO)"/>
<circle cx="573.40" cy="108.10" r="3.1" fill="url(#gO)"/>
<circle cx="571.20" cy="114.90" r="3.1" fill="url(#gO)"/>
<circle cx="570.10" cy="119.60" r="3.1" fill="url(#gO)"/>
<circle cx="570.70" cy="125.20" r="3.1" fill="url(#gO)"/>
<circle cx="571.60" cy="129.80" r="3.1" fill="url(#gO)"/>
<circle cx="572.50" cy="134.40" r="3.1" fill="url(#gO)"/>
<circle cx="573.40" cy="138.20" r="3.1" fill="url(#gO)"/>
<circle cx="574.40" cy="141.00" r="3.1" fill="url(#gO)"/>
<circle cx="576.20" cy="141.00" r="3.1" fill="url(#gO)"/>
<circle cx="578.10" cy="137.20" r="3.1" fill="url(#gO)"/>
<circle cx="579.00" cy="131.70" r="3.1" fill="url(#gO)"/>
<circle cx="579.60" cy="125.20" r="3.1" fill="url(#gO)"/>
<circle cx="580.50" cy="117.70" r="3.1" fill="url(#gO)"/>
<circle cx="581.80" cy="113.10" r="3.1" fill="url(#gO)"/>
<circle cx="584.60" cy="108.40" r="3.1" fill="url(#gO)"/>
<circle cx="587.90" cy="105.70" r="3.1" fill="url(#gO)"/>
<circle cx="591.10" cy="106.20" r="3.1" fill="url(#gO)"/>
<circle cx="593.90" cy="109.40" r="3.1" fill="url(#gO)"/>
<circle cx="594.80" cy="111.60" r="3.1" fill="url(#gO)"/>
<circle cx="596.70" cy="114.90" r="3.1" fill="url(#gO)"/>
<circle cx="597.60" cy="116.40" r="3.1" fill="url(#gO)"/>
<circle cx="599.50" cy="114.00" r="3.1" fill="url(#gO)"/>
<circle cx="601.90" cy="110.40" r="3.1" fill="url(#gO)"/>
<circle cx="604.80" cy="106.80" r="3.1" fill="url(#gO)"/>
<circle cx="607.90" cy="104.00" r="3.1" fill="url(#gO)"/>
<circle cx="611.50" cy="100.90" r="3.1" fill="url(#gO)"/>
<circle cx="615.10" cy="99.20" r="3.1" fill="url(#gO)"/>
<circle cx="618.60" cy="98.00" r="3.1" fill="url(#gO)"/>
<circle cx="622.20" cy="94.40" r="3.1" fill="url(#gO)"/>
<circle cx="625.80" cy="90.80" r="3.1" fill="url(#gO)"/>
<circle cx="628.90" cy="86.60" r="3.1" fill="url(#gO)"/>
<circle cx="632.50" cy="83.00" r="3.1" fill="url(#gO)"/>
<circle cx="636.10" cy="80.60" r="3.1" fill="url(#gO)"/>
<circle cx="639.70" cy="77.70" r="3.1" fill="url(#gO)"/>
<circle cx="643.00" cy="74.60" r="3.1" fill="url(#gO)"/>
<circle cx="646.10" cy="71.50" r="3.1" fill="url(#gO)"/>
<circle cx="649.70" cy="67.50" r="3.1" fill="url(#gO)"/>
<circle cx="654.00" cy="61.50" r="3.1" fill="url(#gO)"/>
<circle cx="659.70" cy="54.80" r="3.1" fill="url(#gO)"/>
<circle cx="665.90" cy="46.70" r="3.1" fill="url(#gO)"/>
<line x1="620.40" y1="97.60" x2="667.80" y2="47.10" stroke="#7a46c8" stroke-width="1.5" />
<line x1="573.40" y1="100.80" x2="600.33" y2="77.36" stroke="#666" stroke-width="1.2" />
<polygon points="605.00,73.30 601.27,82.11 600.33,77.36 595.76,75.78" fill="#666"/>
<rect x="565.60" y="14.60" width="64.20" height="58.30" fill="#fff"/>
<path d="M564.98 14.60H630.42M629.80 14.60V72.90M630.42 72.90H564.98M565.60 72.90V14.60" fill="none" stroke="#2a2a2a" stroke-width="1.25"/>
<g clip-path="url(#c1)">
<circle cx="568.40" cy="59.80" r="2.1" fill="url(#gO)"/>
<circle cx="571.10" cy="60.70" r="2.1" fill="url(#gO)"/>
<circle cx="573.40" cy="60.20" r="2.1" fill="url(#gO)"/>
<circle cx="574.90" cy="57.90" r="2.1" fill="url(#gO)"/>
<circle cx="576.30" cy="53.30" r="2.1" fill="url(#gO)"/>
<circle cx="577.10" cy="48.10" r="2.1" fill="url(#gO)"/>
<circle cx="581.40" cy="43.10" r="2.1" fill="url(#gO)"/>
<circle cx="585.10" cy="38.40" r="2.1" fill="url(#gO)"/>
<circle cx="591.20" cy="32.90" r="2.1" fill="url(#gO)"/>
<circle cx="598.10" cy="28.80" r="2.1" fill="url(#gO)"/>
<circle cx="604.60" cy="26.40" r="2.1" fill="url(#gO)"/>
<circle cx="612.00" cy="25.40" r="2.1" fill="url(#gO)"/>
<circle cx="617.60" cy="26.40" r="2.1" fill="url(#gO)"/>
<circle cx="622.20" cy="29.70" r="2.1" fill="url(#gO)"/>
<circle cx="624.60" cy="33.80" r="2.1" fill="url(#gO)"/>
<circle cx="625.00" cy="40.00" r="2.1" fill="url(#gO)"/>
<circle cx="620.40" cy="44.00" r="2.1" fill="url(#gO)"/>
<circle cx="616.60" cy="46.20" r="2.1" fill="url(#gO)"/>
<circle cx="613.90" cy="47.30" r="2.1" fill="url(#gO)"/>
<circle cx="615.70" cy="49.20" r="2.1" fill="url(#gO)"/>
<circle cx="617.90" cy="51.10" r="2.1" fill="url(#gO)"/>
<circle cx="619.10" cy="53.70" r="2.1" fill="url(#gO)"/>
<circle cx="620.40" cy="56.10" r="2.1" fill="url(#gO)"/>
<circle cx="622.20" cy="58.90" r="2.1" fill="url(#gO)"/>
<circle cx="624.10" cy="61.60" r="2.1" fill="url(#gO)"/>
<circle cx="626.90" cy="62.00" r="2.1" fill="url(#gO)"/>
<circle cx="629.10" cy="61.60" r="2.1" fill="url(#gO)"/>
</g>
<text x="599.30" y="51.40" font-size="14" text-anchor="start" font-weight="bold" fill="#d8261c" stroke="#d8261c" stroke-width="0.22" >I</text>
<text x="586.20" y="132.40" font-size="14" text-anchor="start" font-weight="bold" fill="#d8261c" stroke="#d8261c" stroke-width="0.22" >II</text>
<text x="609.80" y="121.40" font-size="14" text-anchor="start" font-weight="bold" fill="#d8261c" stroke="#d8261c" stroke-width="0.22" >III</text>
<text x="485.50" y="200.80" font-size="16" text-anchor="start" font-weight="bold" fill="#111" stroke="#111" stroke-width="0.22" >(e)</text>
<path d="M535.00 191.50H684.60M684.00 191.50V335.30M684.60 335.30H535.00M535.60 335.30V191.50" fill="none" stroke="#2a2a2a" stroke-width="1.2"/>
<line x1="535.60" y1="204.20" x2="541.60" y2="204.20" stroke="#2a2a2a" stroke-width="1.2" />
<text transform="translate(532.20 210.40) scale(1 1.08)" font-size="15.4" text-anchor="end" font-weight="normal" fill="#111" stroke="#111" stroke-width="0.22">2.8</text>
<line x1="535.60" y1="256.50" x2="541.60" y2="256.50" stroke="#2a2a2a" stroke-width="1.2" />
<text transform="translate(532.20 262.70) scale(1 1.08)" font-size="15.4" text-anchor="end" font-weight="normal" fill="#111" stroke="#111" stroke-width="0.22">2.4</text>
<line x1="535.60" y1="308.90" x2="541.60" y2="308.90" stroke="#2a2a2a" stroke-width="1.2" />
<text transform="translate(532.20 315.10) scale(1 1.08)" font-size="15.4" text-anchor="end" font-weight="normal" fill="#111" stroke="#111" stroke-width="0.22">2.0</text>
<line x1="552.60" y1="335.30" x2="552.60" y2="329.30" stroke="#2a2a2a" stroke-width="1.2" />
<text transform="translate(552.60 350.10) scale(1 1.08)" font-size="15.4" text-anchor="middle" font-weight="normal" fill="#111" stroke="#111" stroke-width="0.22">5</text>
<line x1="587.70" y1="335.30" x2="587.70" y2="329.30" stroke="#2a2a2a" stroke-width="1.2" />
<text transform="translate(587.70 350.10) scale(1 1.08)" font-size="15.4" text-anchor="middle" font-weight="normal" fill="#111" stroke="#111" stroke-width="0.22">6</text>
<line x1="622.80" y1="335.30" x2="622.80" y2="329.30" stroke="#2a2a2a" stroke-width="1.2" />
<text transform="translate(622.80 350.10) scale(1 1.08)" font-size="15.4" text-anchor="middle" font-weight="normal" fill="#111" stroke="#111" stroke-width="0.22">7</text>
<line x1="657.90" y1="335.30" x2="657.90" y2="329.30" stroke="#2a2a2a" stroke-width="1.2" />
<text transform="translate(657.90 350.10) scale(1 1.08)" font-size="15.4" text-anchor="middle" font-weight="normal" fill="#111" stroke="#111" stroke-width="0.22">8</text>
<text transform="translate(607.80 370.30) scale(1 1.12)" font-size="15.4" text-anchor="middle" font-weight="normal" fill="#111" stroke="#111" stroke-width="0.22">ε'</text>
<circle cx="547.10" cy="313.10" r="3.1" fill="url(#gV)"/>
<circle cx="548.90" cy="309.80" r="3.1" fill="url(#gV)"/>
<circle cx="552.10" cy="310.30" r="3.1" fill="url(#gV)"/>
<circle cx="555.20" cy="311.30" r="3.1" fill="url(#gV)"/>
<circle cx="558.20" cy="309.80" r="3.1" fill="url(#gV)"/>
<circle cx="560.10" cy="304.80" r="3.1" fill="url(#gV)"/>
<circle cx="561.40" cy="294.90" r="3.1" fill="url(#gV)"/>
<circle cx="563.80" cy="286.20" r="3.1" fill="url(#gV)"/>
<circle cx="563.20" cy="278.80" r="3.1" fill="url(#gV)"/>
<circle cx="563.80" cy="271.90" r="3.1" fill="url(#gV)"/>
<circle cx="566.90" cy="275.10" r="3.1" fill="url(#gV)"/>
<circle cx="568.20" cy="278.80" r="3.1" fill="url(#gV)"/>
<circle cx="565.00" cy="278.80" r="3.1" fill="url(#gV)"/>
<circle cx="567.80" cy="289.00" r="3.1" fill="url(#gV)"/>
<circle cx="567.80" cy="296.00" r="3.1" fill="url(#gV)"/>
<circle cx="568.80" cy="299.20" r="3.1" fill="url(#gV)"/>
<circle cx="569.30" cy="304.20" r="3.1" fill="url(#gV)"/>
<circle cx="571.60" cy="305.70" r="3.1" fill="url(#gV)"/>
<circle cx="573.80" cy="307.60" r="3.1" fill="url(#gV)"/>
<circle cx="575.30" cy="303.80" r="3.1" fill="url(#gV)"/>
<circle cx="575.80" cy="301.10" r="3.1" fill="url(#gV)"/>
<circle cx="577.50" cy="296.40" r="3.1" fill="url(#gV)"/>
<circle cx="578.60" cy="286.20" r="3.1" fill="url(#gV)"/>
<circle cx="582.30" cy="277.90" r="3.1" fill="url(#gV)"/>
<circle cx="583.60" cy="269.50" r="3.1" fill="url(#gV)"/>
<circle cx="587.90" cy="263.40" r="3.1" fill="url(#gV)"/>
<circle cx="590.50" cy="259.30" r="3.1" fill="url(#gV)"/>
<circle cx="593.80" cy="258.40" r="3.1" fill="url(#gV)"/>
<circle cx="596.60" cy="260.20" r="3.1" fill="url(#gV)"/>
<circle cx="599.00" cy="261.50" r="3.1" fill="url(#gV)"/>
<circle cx="600.90" cy="260.90" r="3.1" fill="url(#gV)"/>
<circle cx="602.20" cy="255.30" r="3.1" fill="url(#gV)"/>
<circle cx="604.60" cy="250.70" r="3.1" fill="url(#gV)"/>
<circle cx="609.30" cy="244.70" r="3.1" fill="url(#gV)"/>
<circle cx="613.00" cy="247.30" r="3.1" fill="url(#gV)"/>
<circle cx="616.70" cy="249.20" r="3.1" fill="url(#gV)"/>
<circle cx="619.50" cy="247.00" r="3.1" fill="url(#gV)"/>
<circle cx="622.30" cy="242.90" r="3.1" fill="url(#gV)"/>
<circle cx="626.00" cy="238.60" r="3.1" fill="url(#gV)"/>
<circle cx="630.10" cy="234.00" r="3.1" fill="url(#gV)"/>
<circle cx="634.90" cy="229.90" r="3.1" fill="url(#gV)"/>
<circle cx="639.30" cy="227.50" r="3.1" fill="url(#gV)"/>
<circle cx="644.50" cy="224.10" r="3.1" fill="url(#gV)"/>
<circle cx="649.70" cy="221.50" r="3.1" fill="url(#gV)"/>
<circle cx="655.70" cy="214.10" r="3.1" fill="url(#gV)"/>
<circle cx="663.10" cy="206.70" r="3.1" fill="url(#gV)"/>
<circle cx="670.90" cy="202.40" r="3.1" fill="url(#gV)"/>
<line x1="639.00" y1="228.00" x2="615.03" y2="218.24" stroke="#666" stroke-width="1.2" />
<polygon points="609.30,215.90 618.85,215.26 615.03,218.24 615.68,223.03" fill="#666"/>
<line x1="565.00" y1="283.60" x2="597.54" y2="302.40" stroke="#666" stroke-width="1.2" />
<polygon points="602.90,305.50 593.35,304.83 597.54,302.40 597.56,297.56" fill="#666"/>
<rect x="544.00" y="193.50" width="63.20" height="56.50" fill="#fff"/>
<path d="M543.38 193.50H607.83M607.20 193.50V250.00M607.83 250.00H543.38M544.00 250.00V193.50" fill="none" stroke="#2a2a2a" stroke-width="1.25"/>
<text transform="translate(548.20 207.80) scale(1 1.03)" font-size="15.6" text-anchor="start" font-weight="bold" fill="#111" stroke="#111" stroke-width="0.22">S3</text>
<g clip-path="url(#c2)">
<circle cx="544.60" cy="240.70" r="2.1" fill="url(#gV)"/>
<circle cx="546.50" cy="242.60" r="2.1" fill="url(#gV)"/>
<circle cx="548.40" cy="244.00" r="2.1" fill="url(#gV)"/>
<circle cx="550.20" cy="242.90" r="2.1" fill="url(#gV)"/>
<circle cx="551.50" cy="241.10" r="2.1" fill="url(#gV)"/>
<circle cx="553.40" cy="238.80" r="2.1" fill="url(#gV)"/>
<circle cx="555.80" cy="236.60" r="2.1" fill="url(#gV)"/>
<circle cx="558.20" cy="234.20" r="2.1" fill="url(#gV)"/>
<circle cx="560.40" cy="232.30" r="2.1" fill="url(#gV)"/>
<circle cx="562.70" cy="230.50" r="2.1" fill="url(#gV)"/>
<circle cx="565.10" cy="229.20" r="2.1" fill="url(#gV)"/>
<circle cx="567.50" cy="227.30" r="2.1" fill="url(#gV)"/>
<circle cx="570.10" cy="225.50" r="2.1" fill="url(#gV)"/>
<circle cx="573.00" cy="223.60" r="2.1" fill="url(#gV)"/>
<circle cx="576.20" cy="221.80" r="2.1" fill="url(#gV)"/>
<circle cx="579.40" cy="219.90" r="2.1" fill="url(#gV)"/>
<circle cx="584.20" cy="214.30" r="2.1" fill="url(#gV)"/>
<circle cx="588.60" cy="208.80" r="2.1" fill="url(#gV)"/>
<circle cx="593.80" cy="205.10" r="2.1" fill="url(#gV)"/>
<circle cx="599.40" cy="202.60" r="2.1" fill="url(#gV)"/>
</g>
<rect x="607.40" y="272.60" width="70.10" height="55.60" fill="#fff"/>
<path d="M606.77 272.60H678.12M677.50 272.60V328.20M678.12 328.20H606.77M607.40 328.20V272.60" fill="none" stroke="#2a2a2a" stroke-width="1.25"/>
<g clip-path="url(#c3)">
<circle cx="613.90" cy="319.40" r="2.1" fill="url(#gV)"/>
<circle cx="618.90" cy="319.40" r="2.1" fill="url(#gV)"/>
<circle cx="623.80" cy="319.20" r="2.1" fill="url(#gV)"/>
<circle cx="627.50" cy="314.70" r="2.1" fill="url(#gV)"/>
<circle cx="629.70" cy="310.10" r="2.1" fill="url(#gV)"/>
<circle cx="633.80" cy="303.00" r="2.1" fill="url(#gV)"/>
<circle cx="638.60" cy="295.60" r="2.1" fill="url(#gV)"/>
<circle cx="638.60" cy="290.60" r="2.1" fill="url(#gV)"/>
<circle cx="640.50" cy="285.80" r="2.1" fill="url(#gV)"/>
<circle cx="642.70" cy="294.30" r="2.1" fill="url(#gV)"/>
<circle cx="644.50" cy="291.00" r="2.1" fill="url(#gV)"/>
<circle cx="645.50" cy="288.20" r="2.1" fill="url(#gV)"/>
<circle cx="647.90" cy="288.80" r="2.1" fill="url(#gV)"/>
<circle cx="649.70" cy="289.10" r="2.1" fill="url(#gV)"/>
<circle cx="647.90" cy="292.50" r="2.1" fill="url(#gV)"/>
<circle cx="648.60" cy="297.50" r="2.1" fill="url(#gV)"/>
<circle cx="649.70" cy="303.60" r="2.1" fill="url(#gV)"/>
<circle cx="650.50" cy="308.10" r="2.1" fill="url(#gV)"/>
<circle cx="652.90" cy="312.30" r="2.1" fill="url(#gV)"/>
<circle cx="655.70" cy="313.60" r="2.1" fill="url(#gV)"/>
<circle cx="657.90" cy="314.20" r="2.1" fill="url(#gV)"/>
<circle cx="660.90" cy="314.20" r="2.1" fill="url(#gV)"/>
<circle cx="665.90" cy="314.20" r="2.1" fill="url(#gV)"/>
<circle cx="669.00" cy="314.70" r="2.1" fill="url(#gV)"/>
<circle cx="670.50" cy="315.50" r="2.1" fill="url(#gV)"/>
<circle cx="672.90" cy="311.80" r="2.1" fill="url(#gV)"/>
<circle cx="677.20" cy="306.80" r="2.1" fill="url(#gV)"/>
</g>
<path d="M606.77 272.60H678.12M677.50 272.60V328.20M678.12 328.20H606.77M607.40 328.20V272.60" fill="none" stroke="#2a2a2a" stroke-width="1.25"/>
<text x="641.20" y="321.30" font-size="14" text-anchor="start" font-weight="bold" fill="#d8261c" stroke="#d8261c" stroke-width="0.22" >I</text>
<text x="567.30" y="241.10" font-size="15" text-anchor="start" font-weight="bold" fill="#d8261c" stroke="#d8261c" stroke-width="0.22" >IV</text>
<text x="588.00" y="280.90" font-size="14" text-anchor="start" font-weight="bold" fill="#d8261c" stroke="#d8261c" stroke-width="0.22" >II</text>
<text x="609.60" y="266.20" font-size="14" text-anchor="start" font-weight="bold" fill="#d8261c" stroke="#d8261c" stroke-width="0.22" >III</text>
</svg></body></html>
